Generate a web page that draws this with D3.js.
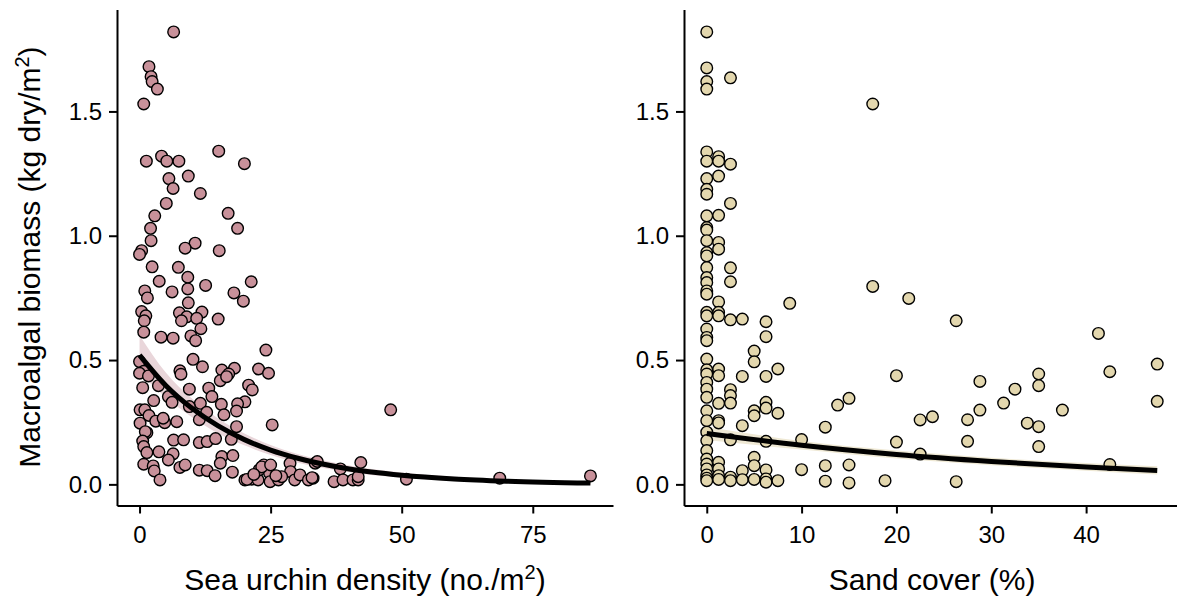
<!DOCTYPE html>
<html>
<head>
<meta charset="utf-8">
<script src="https://cdn.jsdelivr.net/npm/d3@7"></script>
<style>
  body { margin: 0; background: #fff; }
  svg { display: block; font-family: "Liberation Sans", Arial, Helvetica, sans-serif; }
</style>
</head>
<body>
<div id="chart"></div>
<script>
// sea urchin density (no./m2) vs macroalgal biomass (kg dry/m2)
const urchinPoints = [
  [6.5,1.82],[1.8,1.68],[2.2,1.64],[2.4,1.62],[3.4,1.59],[0.8,1.53],
  [1.3,1.30],[4.2,1.32],[5.2,1.30],[7.5,1.30],[15.1,1.34],[20.0,1.29],
  [5.6,1.23],[9.3,1.24],[6.4,1.19],[11.6,1.17],[5.1,1.13],[2.9,1.08],[16.9,1.09],
  [2.1,1.03],[18.7,1.03],[2.2,0.98],[10.6,0.97],[8.7,0.95],[15.2,0.94],[0.4,0.94],[0,0.925],
  [2.4,0.875],[7.4,0.873],[9.2,0.833],[3.75,0.817],[21.3,0.815],[12.6,0.80],[9.2,0.786],
  [1.0,0.778],[6.2,0.774],[18.0,0.77],[1.5,0.75],[19.8,0.737],[9.3,0.73],
  [0.4,0.695],[7.6,0.69],[11.9,0.693],[1.2,0.678],[9.0,0.674],[10.9,0.668],[8.0,0.658],
  [15.0,0.665],[0.9,0.658],[11.7,0.626],[0.8,0.612],[9.8,0.597],[4.1,0.592],[6.4,0.588],
  [10.7,0.578],[24.1,0.54],
  [10.2,0.503],[0,0.494],[12.0,0.473],[0.8,0.455],[0,0.447],[7.7,0.457],[7.9,0.443],
  [15.7,0.46],[18.1,0.467],[17.0,0.444],[22.7,0.464],[24.6,0.447],[1.7,0.436],[15.4,0.417],
  [16.6,0.433],[3.6,0.397],[0.6,0.389],[20.8,0.399],[21.5,0.38],[9.5,0.383],[13.2,0.387],
  [5.5,0.353],[13.8,0.353],[2.7,0.337],[6.2,0.33],[20.1,0.332],[11.6,0.326],[15.6,0.322],
  [18.7,0.324],[0.1,0.30],[1.0,0.30],[9.5,0.313],[12.8,0.29],[18.5,0.295],[1.8,0.277],
  [16.1,0.28],[11.4,0.26],[0.1,0.246],[3.1,0.254],[4.8,0.248],[7.1,0.252],[25.3,0.239],
  [4.5,0.266],[1.4,0.208],[18.5,0.232],[1.1,0.212],
  [0.6,0.174],[6.5,0.178],[8.4,0.179],[11.4,0.168],[12.9,0.172],[14.5,0.184],[17.5,0.181],
  [0.8,0.152],[1.4,0.128],[3.7,0.131],[6.4,0.123],[15.7,0.112],[17.8,0.116],[5.5,0.098],
  [0.8,0.081],[2.6,0.074],[7.7,0.068],[8.7,0.078],[15.4,0.085],[2.8,0.054],[11.4,0.057],
  [12.9,0.055],[14.4,0.035],[17.7,0.049],[3.9,0.018],
  [20.1,0.018],[21.4,0.021],[22.6,0.018],[23.7,0.078],[22.8,0.058],[24.8,0.045],[24.9,0.011],
  [26.5,0.018],[28.7,0.085],[28.8,0.051],[27.1,0.031],[29.6,0.018],[30.6,0.038],[32.2,0.018],
  [33.1,0.025],[33.5,0.085],[32.9,0.027],[33.9,0.092],[37.1,0.011],[38.3,0.062],[38.8,0.018],
  [40.7,0.018],[41.7,0.018],[42.2,0.088],[41.7,0.031],[47.9,0.30],[50.9,0.021],[68.7,0.025],
  [86.0,0.034],[20.5,0.02],[23.3,0.07],[25.0,0.078],[26.0,0.035],[21.8,0.04]
];

// sand cover (%) vs macroalgal biomass
const sandPoints = [
  [0,1.82],[0,1.675],[0,1.62],[0,1.59],[0,1.337],[0,1.30],[0,1.23],[0,1.187],[0,1.167],
  [0,1.08],[0,1.033],[0,1.023],[0,0.98],[0,0.932],[0,0.919],[0,0.872],[0,0.832],[0,0.812],
  [0,0.778],[0,0.765],[0,0.692],[0,0.678],[0,0.625],[0,0.591],[0,0.578],[0,0.504],[0,0.461],
  [0,0.444],[0,0.41],[0,0.383],[0,0.35],[0,0.296],[0,0.256],[0,0.21],[0,0.176],[0,0.136],
  [0,0.102],[0,0.082],[0,0.062],[0,0.038],[0,0.025],[0,0.015],
  [1.25,1.318],[1.25,1.30],[1.25,1.24],[1.25,1.082],[1.25,0.973],[1.25,0.946],[1.25,0.734],
  [1.25,0.692],[1.25,0.678],[1.25,0.464],[1.25,0.437],[1.25,0.326],[1.25,0.256],[1.25,0.247],
  [1.25,0.089],[1.25,0.062],[1.25,0.035],[1.25,0.02],
  [2.5,1.635],[2.5,1.288],[2.5,1.13],[2.5,0.871],[2.5,0.815],[2.5,0.662],[2.5,0.381],
  [2.5,0.357],[2.5,0.327],[2.5,0.179],[2.5,0.029],[2.5,0.015],
  [3.75,0.665],[3.75,0.434],[3.75,0.236],[3.75,0.055],[3.75,0.019],
  [5,0.536],[5,0.493],[5,0.296],[5,0.276],[5,0.109],[5,0.075],[5,0.02],
  [6.25,0.654],[6.25,0.594],[6.25,0.434],[6.25,0.33],[6.25,0.307],[6.25,0.173],[6.25,0.058],
  [6.25,0.022],[6.25,0.009],
  [7.5,0.464],[7.5,0.286],[7.5,0.015],[8.75,0.728],[10,0.18],[10,0.059],
  [12.5,0.23],[12.5,0.075],[12.5,0.013],[13.8,0.319],[15,0.346],[15,0.078],[15,0.006],
  [17.5,1.53],[17.5,0.796],[18.8,0.015],[20,0.437],[20,0.17],[21.3,0.748],[22.5,0.259],
  [22.5,0.122],[23.8,0.272],[26.3,0.658],[26.3,0.011],[27.5,0.26],[27.5,0.173],[28.8,0.414],
  [28.8,0.299],[31.3,0.327],[32.5,0.383],[33.8,0.246],[35,0.444],[35,0.397],[35,0.232],
  [35,0.152],[37.5,0.299],[41.3,0.607],[42.5,0.453],[42.5,0.08],[47.5,0.484],[47.5,0.334]
];

// fitted curves with confidence band: [x, fit, lower, upper]
const urchinFit = [
  [0,0.52,0.45,0.60],[5,0.398,0.35,0.45],[10,0.306,0.27,0.345],[15,0.235,0.205,0.265],
  [20,0.18,0.157,0.205],[25,0.138,0.118,0.158],[30,0.106,0.088,0.123],[40,0.062,0.049,0.076],
  [50,0.037,0.027,0.048],[60,0.022,0.014,0.031],[70,0.013,0.007,0.021],[86,0.005,0.002,0.011]
];
const sandFit = [
  [0,0.205,0.178,0.232],[10,0.157,0.14,0.174],[20,0.12,0.104,0.136],
  [30,0.092,0.077,0.107],[40,0.07,0.055,0.086],[47.5,0.056,0.04,0.073]
];

const urchinTicks = [0, 25, 50, 75];
const sandTicks = [0, 10, 20, 30, 40];
const biomassTicks = [0, 0.5, 1.0, 1.5];

const width = 1177, height = 601;
const svg = d3.select('#chart').append('svg')
    .attr('width', width)
    .attr('height', height);

const y = d3.scaleLinear().domain([-0.085, 1.91]).range([505.5, 9.5]);

function drawPanel(opts) {
    const x = d3.scaleLinear().domain(opts.domain).range(opts.range);
    const g = svg.append('g');

    const band = d3.area()
        .x(d => x(d[0]))
        .y0(d => y(d[2]))
        .y1(d => y(d[3]))
        .curve(d3.curveMonotoneX);
    g.append('path')
        .datum(opts.fit)
        .attr('d', band)
        .attr('fill', opts.bandColor);

    g.selectAll('circle')
        .data(opts.points)
        .enter()
        .append('circle')
        .attr('cx', d => x(d[0]))
        .attr('cy', d => y(d[1]))
        .attr('r', 5.8)
        .attr('fill', opts.color)
        .attr('stroke', '#000')
        .attr('stroke-width', 1.4);

    const line = d3.line()
        .x(d => x(d[0]))
        .y(d => y(d[1]))
        .curve(d3.curveMonotoneX);
    g.append('path')
        .datum(opts.fit)
        .attr('d', line)
        .attr('fill', 'none')
        .attr('stroke', '#000')
        .attr('stroke-width', 5);

    const xAxis = g.append('g')
        .attr('transform', 'translate(0,505.5)')
        .call(d3.axisBottom(x).tickValues(opts.ticks).tickSize(8).tickPadding(12).tickSizeOuter(0));
    const yAxis = g.append('g')
        .attr('transform', `translate(${opts.range[0]},0)`)
        .call(d3.axisLeft(y).tickValues(biomassTicks).tickFormat(d3.format('.1f'))
            .tickSize(8).tickPadding(7).tickSizeOuter(0));

    [xAxis, yAxis].forEach(a => {
        a.selectAll('path, line').attr('stroke', '#000').attr('stroke-width', 2);
        a.selectAll('text').attr('fill', '#000').style('font-size', '24px');
    });
    return x;
}

drawPanel({
    points: urchinPoints, fit: urchinFit, ticks: urchinTicks,
    domain: [-4.3, 90.3], range: [117, 613],
    color: '#c8919a', bandColor: '#e9d6da'
});
drawPanel({
    points: sandPoints, fit: sandFit, ticks: sandTicks,
    domain: [-2.4, 49.9], range: [684, 1180],
    color: '#e3d7ae', bandColor: '#efe9d5'
});

// axis titles
const t1 = svg.append('text')
    .attr('x', 365).attr('y', 590)
    .attr('text-anchor', 'middle')
    .style('font-size', '30px');
t1.append('tspan').text('Sea urchin density (no./m');
t1.append('tspan').attr('dy', -11).style('font-size', '20px').text('2');
t1.append('tspan').attr('dy', 11).text(')');

svg.append('text')
    .attr('x', 932).attr('y', 590)
    .attr('text-anchor', 'middle')
    .style('font-size', '30px')
    .text('Sand cover (%)');

const t2 = svg.append('text')
    .attr('transform', 'translate(40,257) rotate(-90)')
    .attr('text-anchor', 'middle')
    .style('font-size', '30px');
t2.append('tspan').text('Macroalgal biomass (kg dry/m');
t2.append('tspan').attr('dy', -11).style('font-size', '20px').text('2');
t2.append('tspan').attr('dy', 11).text(')');
</script>
</body>
</html>
